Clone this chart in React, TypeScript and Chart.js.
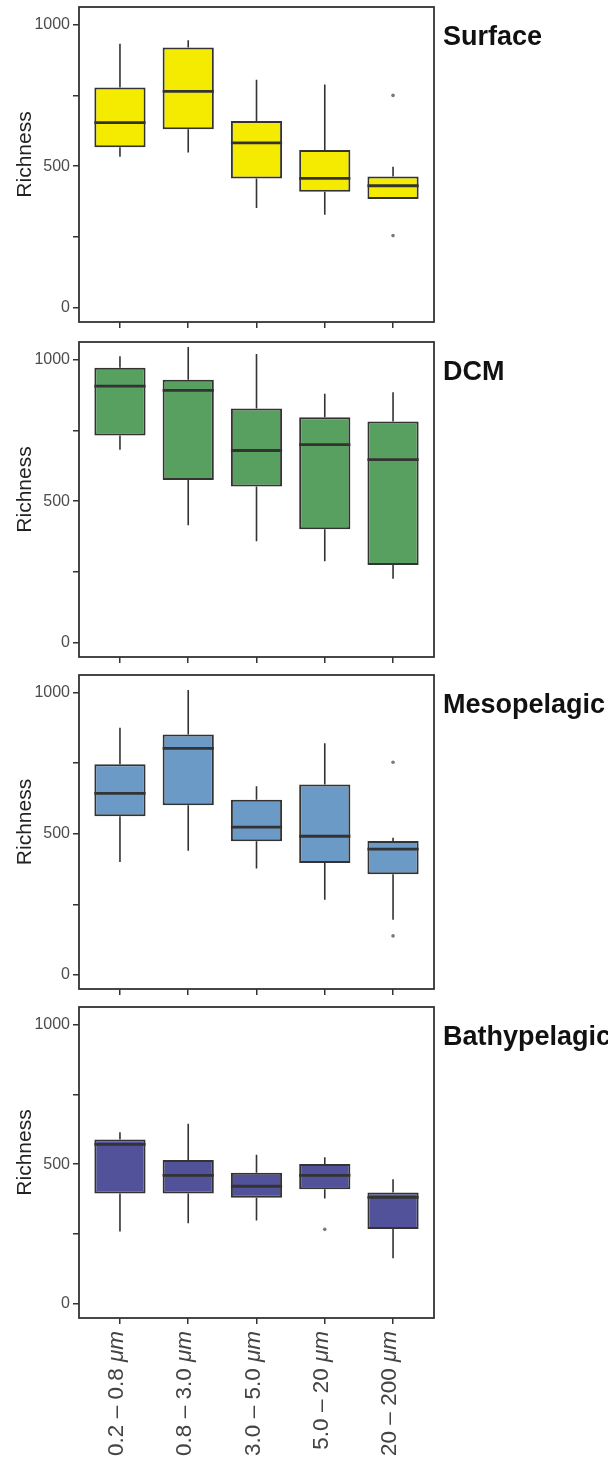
import React, { useEffect, useRef } from 'react';
import { Chart, registerables } from 'chart.js';

Chart.register(...registerables);

// ---------- data ----------
const categories = ['0.2 – 0.8 ', '0.8 – 3.0 ', '3.0 – 5.0 ', '5.0 – 20 ', '20 – 200 '];
const sizeUnit = 'μm';
const yTicks = [0, 250, 500, 750, 1000];
const yLabelled = [0, 500, 1000];
const yTitle = 'Richness';
const panelNames = ['Surface', 'DCM', 'Mesopelagic', 'Bathypelagic'];
const panelColors = ['#F5EB00', '#58A05F', '#6B9AC6', '#52529B'];

const surfaceLow = [533, 548, 352, 329, 384];
const surfaceQ1 = [567, 630, 457, 410, 384];
const surfaceMed = [654, 764, 582, 457, 431];
const surfaceQ3 = [778, 919, 660, 557, 464];
const surfaceHigh = [932, 945, 805, 788, 498];
const surfaceOut = [[], [], [], [], [750, 255]];

const dcmLow = [682, 415, 359, 288, 226];
const dcmQ1 = [732, 575, 552, 401, 275];
const dcmMed = [906, 891, 679, 700, 647];
const dcmQ3 = [971, 929, 827, 796, 781];
const dcmHigh = [1012, 1044, 1020, 879, 885];
const dcmOut = [[], [], [], [], []];

const mesoLow = [400, 440, 377, 266, 195];
const mesoQ1 = [562, 601, 473, 396, 356];
const mesoMed = [643, 802, 523, 491, 445];
const mesoQ3 = [746, 851, 620, 674, 474];
const mesoHigh = [875, 1009, 668, 820, 486];
const mesoOut = [[], [], [], [], [753, 138]];

const bathyLow = [259, 289, 299, 377, 164];
const bathyQ1 = [395, 395, 380, 410, 268];
const bathyMed = [571, 460, 421, 460, 381];
const bathyQ3 = [588, 515, 469, 501, 399];
const bathyHigh = [614, 645, 534, 525, 446];
const bathyOut = [[], [], [], [267], []];

const panels = [
  { low: surfaceLow, q1: surfaceQ1, med: surfaceMed, q3: surfaceQ3, high: surfaceHigh, out: surfaceOut },
  { low: dcmLow, q1: dcmQ1, med: dcmMed, q3: dcmQ3, high: dcmHigh, out: dcmOut },
  { low: mesoLow, q1: mesoQ1, med: mesoMed, q3: mesoQ3, high: mesoHigh, out: mesoOut },
  { low: bathyLow, q1: bathyQ1, med: bathyMed, q3: bathyQ3, high: bathyHigh, out: bathyOut },
];

// ---------- layout ----------
const PAGE_W = 608;
const PAGE_H = 1471;
const areaTops = [7, 342, 675, 1007];
const areaBottoms = [322, 657, 989, 1318];
const AREA_LEFT = 79;
const AREA_RIGHT = 434;
const TOP_PAD = 7;
const X_AXIS_H = 8;
const FONT = '"Liberation Sans", Arial, Helvetica, sans-serif';
const LINE = '#333333';

function Panel({ idx }: { idx: number }) {
  const ref = useRef<HTMLCanvasElement | null>(null);
  const isLast = idx === panels.length - 1;
  const top = areaTops[idx] - TOP_PAD;
  const areaH = areaBottoms[idx] - areaTops[idx];
  const height = isLast ? PAGE_H - top : TOP_PAD + areaH + X_AXIS_H;
  const padBottom = height - TOP_PAD - areaH - X_AXIS_H;

  useEffect(() => {
    const canvas = ref.current;
    if (!canvas) return;
    const p = panels[idx];

    const boxPlugin = {
      id: 'boxplot' + idx,
      beforeDatasetsDraw(chart: any) {
        const { ctx } = chart;
        const x = chart.scales.x;
        const y = chart.scales.y;
        ctx.save();
        ctx.strokeStyle = LINE;
        ctx.lineWidth = 1.6;
        p.q1.forEach((_, i) => {
          const px = x.getPixelForValue(i + 1);
          ctx.beginPath();
          ctx.moveTo(px, y.getPixelForValue(p.high[i]));
          ctx.lineTo(px, y.getPixelForValue(p.q3[i]));
          ctx.moveTo(px, y.getPixelForValue(p.q1[i]));
          ctx.lineTo(px, y.getPixelForValue(p.low[i]));
          ctx.stroke();
        });
        ctx.restore();
      },
      afterDatasetsDraw(chart: any) {
        const { ctx } = chart;
        const y = chart.scales.y;
        const meta = chart.getDatasetMeta(1);
        ctx.save();
        ctx.strokeStyle = LINE;
        ctx.lineWidth = 2.8;
        p.med.forEach((m, i) => {
          const el = meta.data[i];
          const py = y.getPixelForValue(m);
          ctx.beginPath();
          ctx.moveTo(el.x - el.width / 2, py);
          ctx.lineTo(el.x + el.width / 2, py);
          ctx.stroke();
        });
        ctx.restore();
      },
      afterDraw(chart: any) {
        const { ctx, chartArea } = chart;
        ctx.save();
        // panel frame
        ctx.strokeStyle = LINE;
        ctx.lineWidth = 1.8;
        ctx.strokeRect(chartArea.left, chartArea.top, chartArea.right - chartArea.left, chartArea.bottom - chartArea.top);
        // panel name
        ctx.fillStyle = '#111111';
        ctx.font = `bold 27px ${FONT}`;
        ctx.textAlign = 'left';
        ctx.textBaseline = 'alphabetic';
        ctx.fillText(panelNames[idx], chartArea.right + 9, chartArea.top + 38);
        // y title
        ctx.save();
        ctx.translate(25, (chartArea.top + chartArea.bottom) / 2 - 10);
        ctx.rotate(-Math.PI / 2);
        ctx.font = `21px ${FONT}`;
        ctx.fillStyle = '#222222';
        ctx.textAlign = 'center';
        ctx.textBaseline = 'middle';
        ctx.fillText(yTitle, 0, 0);
        ctx.restore();
        // x labels
        if (isLast) {
          const x = chart.scales.x;
          categories.forEach((c, i) => {
            const px = x.getPixelForValue(i + 1);
            ctx.save();
            ctx.translate(px, chartArea.bottom + 13);
            ctx.rotate(-Math.PI / 2);
            ctx.fillStyle = '#444444';
            ctx.textBaseline = 'middle';
            ctx.textAlign = 'right';
            ctx.font = `italic 22.5px ${FONT}`;
            ctx.fillText(sizeUnit, 0, -3);
            const w = ctx.measureText(sizeUnit).width;
            ctx.font = `22.5px ${FONT}`;
            ctx.fillText(c, -w, -3);
            ctx.restore();
          });
        }
        ctx.restore();
      },
    };

    const outlierPoints: { x: number; y: number }[] = [];
    p.out.forEach((arr, i) => arr.forEach((v) => outlierPoints.push({ x: i + 1, y: v })));

    const chart = new Chart(canvas, {
      type: 'bar',
      data: {
        datasets: [
          {
            type: 'scatter',
            data: outlierPoints,
            pointRadius: 1.8,
            pointBackgroundColor: '#7a7a7a',
            pointBorderWidth: 0,
          } as any,
          {
            type: 'bar',
            data: p.q1.map((v, i) => ({ x: i + 1, y: [v, p.q3[i]] })),
            backgroundColor: panelColors[idx],
            borderColor: LINE,
            borderWidth: 2,
            borderSkipped: false,
            barPercentage: 0.75,
            categoryPercentage: 1,
          } as any,
        ],
      },
      options: {
        responsive: false,
        animation: false,
        devicePixelRatio: 1,
        layout: { padding: { left: 0, right: PAGE_W - AREA_RIGHT, top: TOP_PAD, bottom: padBottom } },
        plugins: { legend: { display: false }, tooltip: { enabled: false }, title: { display: false } },
        scales: {
          x: {
            type: 'linear',
            min: 0.4,
            max: 5.6,
            offset: false,
            afterBuildTicks: (s: any) => {
              s.ticks = categories.map((_, i) => ({ value: i + 1 }));
            },
            afterFit: (s: any) => {
              s.height = X_AXIS_H;
              s.paddingLeft = 0;
              s.paddingRight = 0;
            },
            ticks: { display: false },
            grid: { offset: false, drawOnChartArea: false, drawTicks: true, tickLength: 6, color: LINE, lineWidth: 1.5 },
            border: { display: false },
          },
          y: {
            type: 'linear',
            min: -50,
            max: 1062,
            afterBuildTicks: (s: any) => {
              s.ticks = yTicks.map((v) => ({ value: v }));
            },
            afterFit: (s: any) => {
              s.width = AREA_LEFT;
              s.paddingTop = 0;
              s.paddingBottom = 0;
            },
            ticks: {
              padding: 3,
              color: '#4D4D4D',
              font: { family: FONT, size: 16 },
              callback: (v: any) => (yLabelled.includes(Number(v)) ? String(v) : ''),
            },
            grid: { drawOnChartArea: false, drawTicks: true, tickLength: 6, color: LINE, lineWidth: 1.5 },
            border: { display: false },
          },
        },
      } as any,
      plugins: [boxPlugin],
    });
    return () => chart.destroy();
  }, []);

  return (
    <canvas
      ref={ref}
      width={PAGE_W}
      height={height}
      style={{ position: 'absolute', left: 0, top, width: PAGE_W, height, display: 'block' }}
    />
  );
}

export default function App() {
  return (
    <div style={{ position: 'absolute', left: 0, top: 0, width: PAGE_W, height: PAGE_H, background: '#ffffff', overflow: 'hidden' }}>
      {panels.map((_, i) => (
        <Panel key={i} idx={i} />
      ))}
    </div>
  );
}
